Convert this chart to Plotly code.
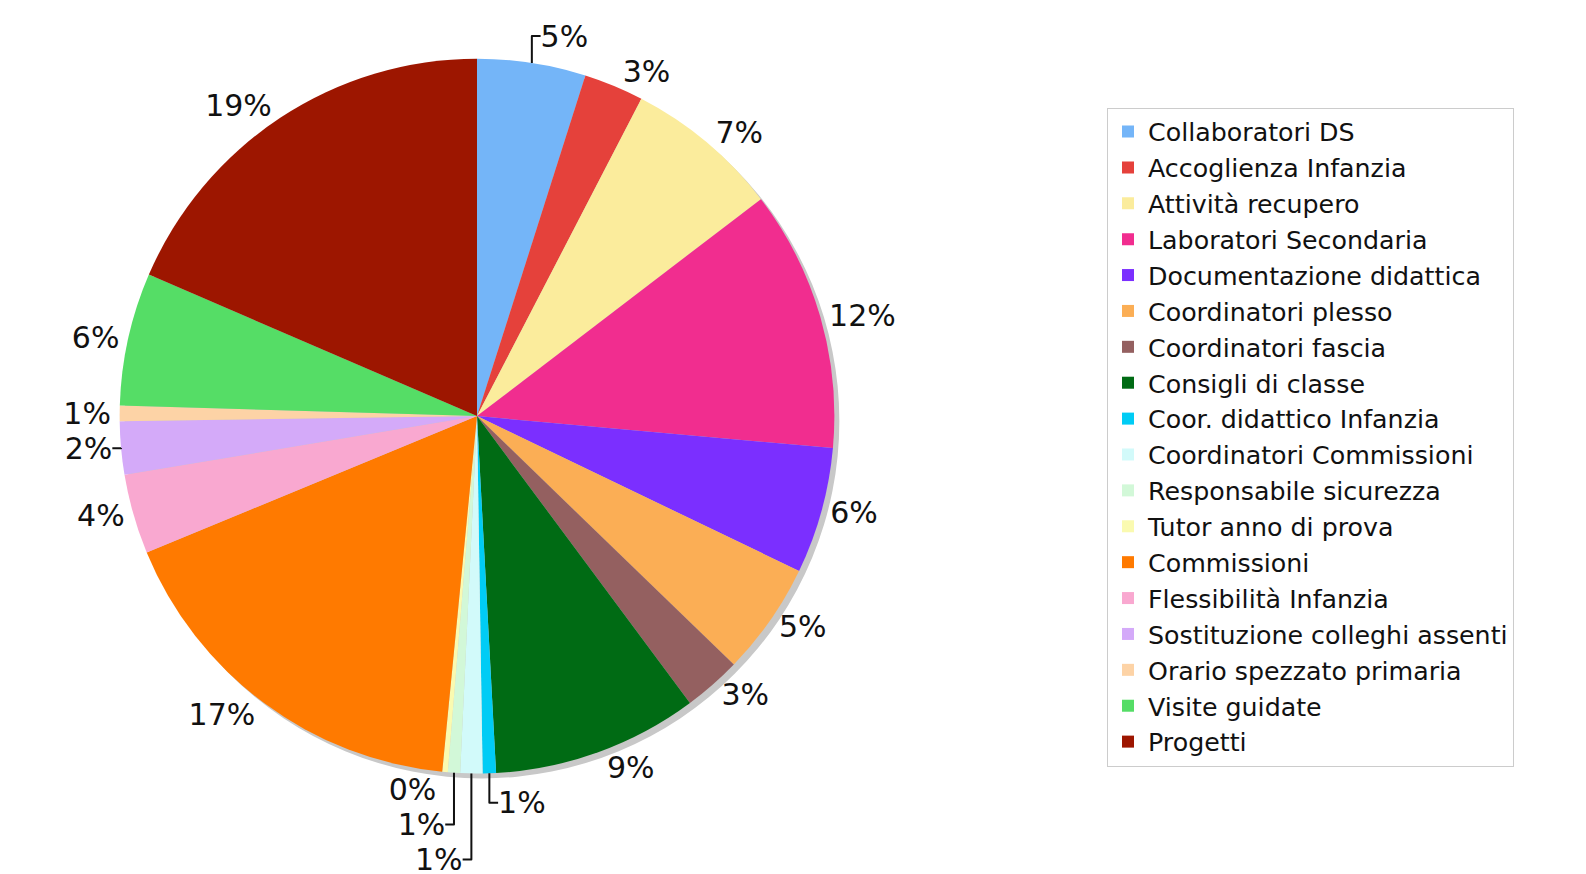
import plotly.graph_objects as go

categories = [
    "Collaboratori DS", "Accoglienza Infanzia", "Attività recupero",
    "Laboratori Secondaria", "Documentazione didattica", "Coordinatori plesso",
    "Coordinatori fascia", "Consigli di classe", "Coor. didattico Infanzia",
    "Coordinatori Commissioni", "Responsabile sicurezza", "Tutor anno di prova",
    "Commissioni", "Flessibilità Infanzia", "Sostituzione colleghi assenti",
    "Orario spezzato primaria", "Visite guidate", "Progetti",
]
values = [4.9, 2.7, 7.0, 11.8, 5.7, 5.1, 2.6, 9.3, 0.6, 1.0, 0.55, 0.25,
          17.2, 3.6, 2.4, 0.7, 6.0, 18.5]
colors = [
    "#74B5F8", "#E5413B", "#FBEC9C", "#F12D8F", "#7B2FFF", "#FBAE55",
    "#946060", "#006B14", "#00CCF5", "#D2FAFA", "#D2F8D8", "#FAFAB0",
    "#FF7A00", "#F9A8D0", "#D4AAF9", "#FDD3A6", "#55DD66", "#9D1600",
]

W, H = 1586, 874
cx, cy, r = 469, 410, 359
off = 5

fig = go.Figure()
# shadow
fig.add_trace(go.Pie(
    values=[1], labels=["shadow"], marker=dict(colors=["#C8C8C8"]),
    textinfo="none", hoverinfo="skip", showlegend=False, sort=False,
    domain=dict(x=[(cx - r + off) / W, (cx + r + off) / W],
                y=[(H - cy - r - off) / H, (H - cy + r - off) / H]),
))
fig.add_trace(go.Pie(
    labels=categories, values=values, sort=False, direction="clockwise",
    rotation=0,
    marker=dict(colors=colors, line=dict(width=0)),
    textposition="outside", texttemplate="%{percent:.0%}",
    outsidetextfont=dict(family="DejaVu Sans", size=30, color="#111111"),
    domain=dict(x=[(cx - r) / W, (cx + r) / W],
                y=[(H - cy - r) / H, (H - cy + r) / H]),
))
fig.update_layout(
    width=W, height=H,
    margin=dict(l=0, r=0, t=0, b=0),
    paper_bgcolor="white", plot_bgcolor="white",
    legend=dict(
        x=1099 / W, y=1 - 100 / H, xanchor="left", yanchor="top",
        font=dict(family="DejaVu Sans", size=25.3, color="#111111"),
        bgcolor="white", bordercolor="#CCCCCC", borderwidth=1,
        traceorder="normal", itemsizing="constant",
    ),
)
fig.write_html("out.html")
